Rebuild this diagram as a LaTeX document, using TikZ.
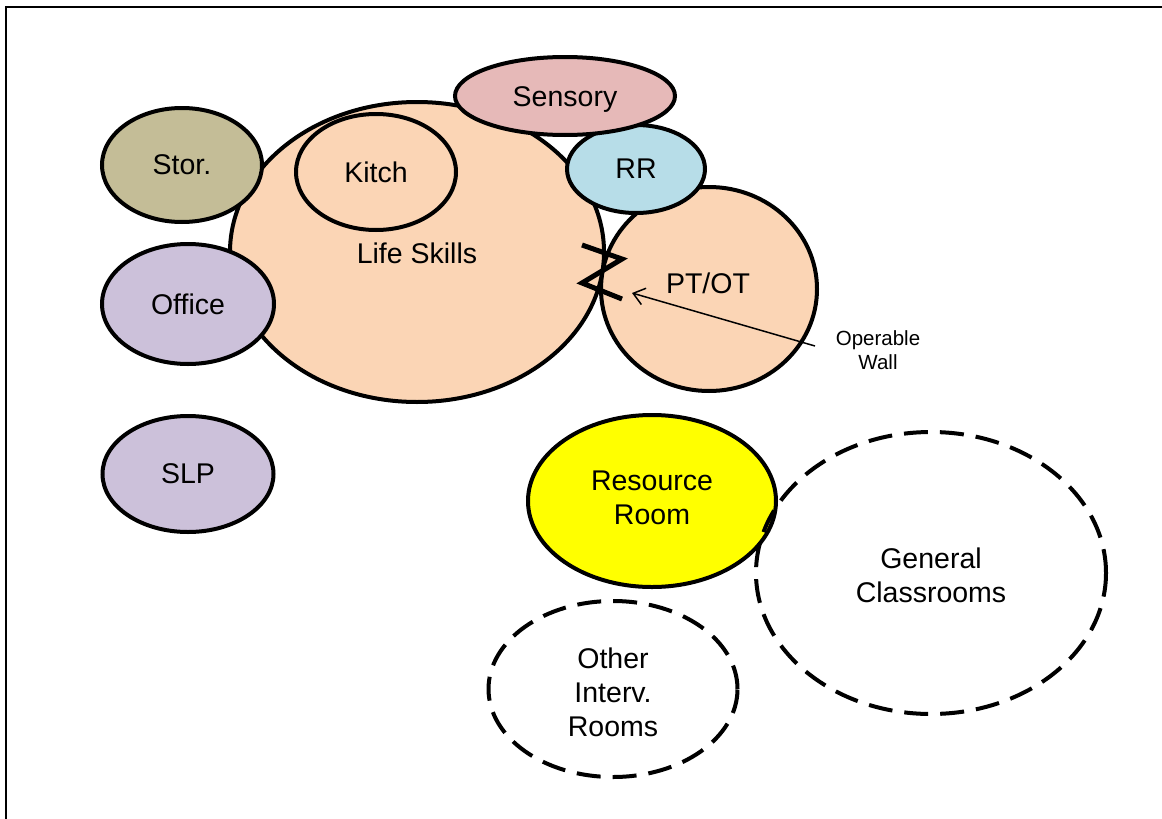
\documentclass[tikz,border=0pt]{standalone}
\usepackage{fontspec}
\setmainfont{Liberation Sans}
\usetikzlibrary{shapes.geometric,arrows.meta}
\definecolor{sensoryc}{HTML}{E6B9B8}
\definecolor{storc}{HTML}{C4BD97}
\definecolor{lifec}{HTML}{FBD5B5}
\definecolor{rrc}{HTML}{B7DDE8}
\definecolor{officec}{HTML}{CCC1DA}
\definecolor{resc}{HTML}{FFFF00}
\tikzset{
  room/.style={ellipse, draw=black, line width=4pt, inner sep=0pt, outer sep=0pt,
    align=center, font=\fontsize{28.5}{34}\selectfont},
  dashroom/.style={room, dash pattern=on 24pt off 12pt},
  lbl/.style={inner sep=0pt, align=center, font=\fontsize{28.5}{34}\selectfont},
  smalllbl/.style={inner sep=0pt, align=center, font=\fontsize{20.5}{24}\selectfont},
  wallline/.style={line width=5pt},
  pointer/.style={line width=1.5pt, -{Straight Barb[length=11pt,width=17pt,line width=1.5pt]}},
  frameline/.style={line width=2.5pt}
}
\begin{document}
\begin{tikzpicture}[x=1pt,y=-1pt]
\useasboundingbox (0,0) rectangle (1162,819);
\fill[white] (0,0) rectangle (1162,819);
\draw[frameline] (6,819) -- (6,7) -- (1162,7);

% Life skills and rooms
\node[room, fill=lifec, minimum width=374pt, minimum height=300pt] (life) at (417,252) {};
\node[lbl] (lifel) at (417,253) {Life Skills};
\node[room, fill=lifec, minimum width=160pt, minimum height=116pt] (kitch) at (376,172) {Kitch};
\node[room, fill=lifec, minimum width=216pt, minimum height=204pt] (ptot) at (709,289) {};
\node[lbl] (ptotl) at (708,283) {PT/OT};
\node[room, fill=rrc, minimum width=138pt, minimum height=88pt] (rr) at (636,169) {RR};
\node[room, fill=sensoryc, minimum width=220pt, minimum height=78pt] (sensory) at (565,96) {};
\node[lbl] (sensoryl) at (565,100) {Sensory};

\node[room, fill=storc, minimum width=160pt, minimum height=114pt] (stor) at (182,165) {Stor.};
\node[room, fill=officec, minimum width=172pt, minimum height=120pt] (office) at (188,304) {Office};
\node[room, fill=officec, minimum width=171pt, minimum height=116pt] (slp) at (188,474) {SLP};

\node[room, fill=resc, minimum width=248pt, minimum height=172pt] (res) at (652,501) {};
\node[lbl] (resl) at (652,498) {Resource\\Room};
\node[dashroom, minimum width=350pt, minimum height=282pt] (gen) at (931,573) {};
\node[lbl] (genl) at (931,575) {General\\Classrooms};
\node[dashroom, minimum width=249pt, minimum height=176pt] (other) at (613,689) {};
\node[lbl] (otherl) at (613,692) {Other\\Interv.\\Rooms};

% operable wall
\coordinate (w1) at (582,245);
\coordinate (w2) at (622,259);
\coordinate (w3) at (582,283);
\coordinate (w4) at (622,299);
\draw[wallline] (w1) -- (w2) -- (w3) -- (w4);

\node[smalllbl] (wall) at (878,350) {Operable\\Wall};
\coordinate (tail) at (815,346);
\coordinate (tip) at (632,293);
\draw[pointer] (tail) -- (tip);
\end{tikzpicture}
\end{document}
